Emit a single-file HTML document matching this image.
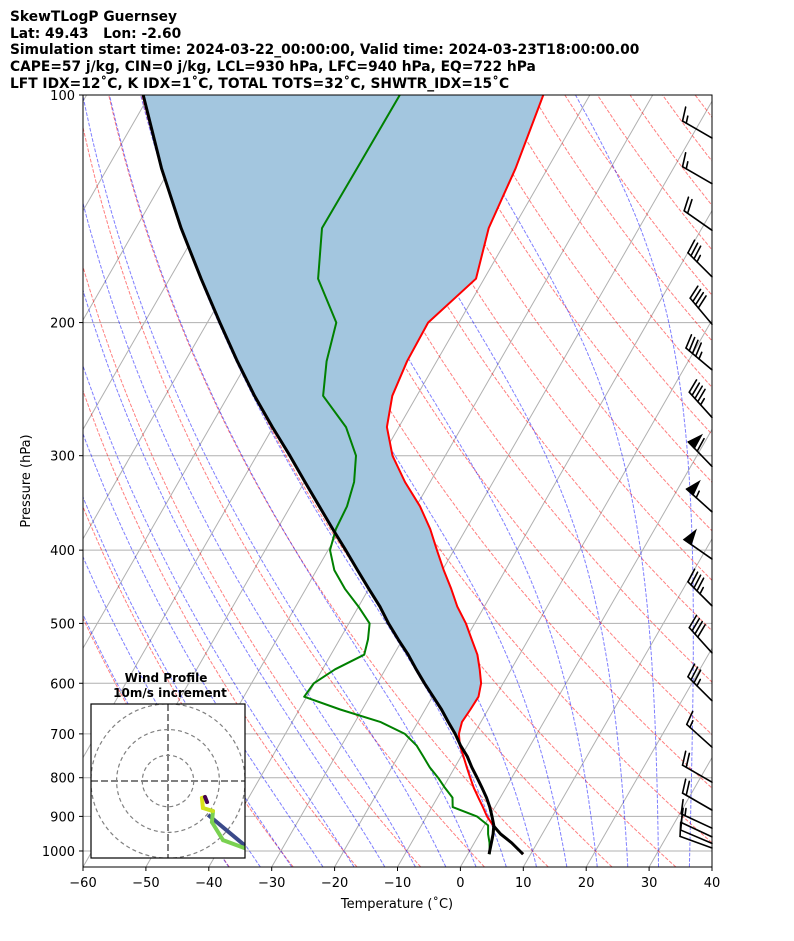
<!DOCTYPE html>
<html><head><meta charset="utf-8">
<style>
html,body{margin:0;padding:0;background:#fff;}
body{width:794px;height:937px;overflow:hidden;font-family:"DejaVu Sans","Liberation Sans",sans-serif;}
svg text{font-family:"DejaVu Sans","Liberation Sans",sans-serif;}
</style></head>
<body>
<svg id="chart" width="794" height="937" viewBox="0 0 794 937" xmlns="http://www.w3.org/2000/svg">
<defs>
<clipPath id="plotclip"><rect x="83" y="95" width="629" height="772"/></clipPath>
<clipPath id="hodoclip"><rect x="91" y="704" width="154" height="154"/></clipPath>
</defs>
<g font-weight="bold" font-size="13.8" fill="#000">
<text x="10" y="21">SkewTLogP Guernsey</text>
<text x="10" y="38" xml:space="preserve">Lat: 49.43   Lon: -2.60</text>
<text x="10" y="54">Simulation start time: 2024-03-22_00:00:00, Valid time: 2024-03-23T18:00:00.00</text>
<text x="10" y="71">CAPE=57 j/kg, CIN=0 j/kg, LCL=930 hPa, LFC=940 hPa, EQ=722 hPa</text>
<text x="10" y="88">LFT IDX=12˚C, K IDX=1˚C, TOTAL TOTS=32˚C, SHWTR_IDX=15˚C</text>
</g>
<g id="bg" clip-path="url(#plotclip)"></g>
<g id="data" clip-path="url(#plotclip)"></g>
<rect x="83" y="95" width="629" height="772" fill="none" stroke="#000" stroke-width="1"/>
<g id="axes"></g>
<g id="barbs"></g>
<g id="hodo"></g>
</svg>
<script>
// ---- data ----
const pLevels = [1010,1000,975,950,925,900,875,850,825,800,775,750,725,700,675,650,625,600,575,550,525,500,475,450,425,400,375,350,325,300,275,250,225,200,175,150,125,100];
const tempC = [8.8,8.0,5.9,3.4,1.4,-0.4,-1.9,-3.5,-5.1,-6.6,-8.1,-9.6,-11.2,-12.4,-13.0,-12.8,-12.7,-13.5,-15.0,-16.7,-19.0,-21.4,-24.3,-26.9,-29.8,-32.7,-35.7,-39.4,-44.0,-48.4,-51.9,-53.9,-54.7,-54.9,-51.3,-53.9,-55.1,-57.4];
const dewpC = [3.5,3.2,2.4,1.4,0.6,-2.0,-6.7,-7.6,-9.7,-11.7,-14.0,-16.0,-18.1,-21.0,-26.0,-33.5,-40.4,-40.1,-38.0,-34.7,-35.5,-36.7,-40.0,-43.8,-47.2,-49.7,-50.7,-51.0,-52.1,-54.2,-58.4,-64.9,-67.5,-69.5,-76.4,-80.4,-80.3,-80.2];
const parcelC = [3.4,3.2,2.7,2.2,1.5,0.4,-0.8,-2.2,-3.8,-5.5,-7.3,-9.0,-11.1,-13.0,-15.2,-17.4,-19.9,-22.5,-25.1,-27.7,-30.7,-33.7,-36.6,-40.0,-43.5,-47.2,-51.2,-55.4,-59.9,-64.7,-70.1,-75.8,-81.7,-88.0,-95.0,-102.8,-111.4,-121.0];
const windP = [114,131,151,174,201,231,267,310,356,411,474,547,633,729,811,883,933,958,977,991];
const windSpd = [15,15,20,35,40,45,45,60,55,50,45,40,35,15,20,20,15,10,10,10];
const windDir = [300,300,305,315,320,310,318,316,312,305,315,318,315,312,300,300,295,295,293,290];
const hodoU = [33.9,21.4,17.1,17.5,13.6,13.2,14.4,15.2];
const hodoV = [-27.6,-23.0,-16.0,-11.7,-10.5,-6.6,-6.2,-8.2];
const hodoLowU = [35.8,15.6];
const hodoLowV = [-30.0,-13.2];
const xTicks = [-60,-50,-40,-30,-20,-10,0,10,20,30,40];
const yTicks = [100,200,300,400,500,600,700,800,900,1000];

// ---- scales ----
const L=83,R=712,T0=95,B=867,PB=1050;
const DEC=(B-T0)/Math.log10(PB/100);
function yp(p){return T0+DEC*Math.log10(p/100);}
function xs(t,p){return L+(t+60)*6.29+0.575*(B-yp(p));}
const NS='http://www.w3.org/2000/svg';
function mk(tag,attrs,parent){const e=document.createElementNS(NS,tag);for(const k in attrs)e.setAttribute(k,attrs[k]);parent.appendChild(e);return e;}
const bg=document.getElementById('bg'),dg=document.getElementById('data'),ax=document.getElementById('axes');

yTicks.forEach(p=>{const l=mk('line',{x1:L,x2:R,y1:yp(p),y2:yp(p),stroke:'#b0b0b0','stroke-width':1},bg);

});
for(let t=-200;t<=40;t+=10){const l=mk('line',{x1:xs(t,PB),y1:B,x2:xs(t,100),y2:T0,stroke:'#b0b0b0','stroke-width':1},bg);

}
function pts(arr){return arr.map(a=>a[0].toFixed(1)+','+a[1].toFixed(1)).join(' ');}
for(let t0=-40;t0<=200;t0+=10){const th=t0+273.15;const a=[];for(let p=PB;p>=100;p-=10){a.push([xs(th*Math.pow(p/1000,0.2857)-273.15,p),yp(p)]);}
const l=mk('polyline',{points:pts(a),fill:'none',stroke:'rgba(255,0,0,0.5)','stroke-width':1,'stroke-dasharray':'3.7,1.6'},bg);

}
function dTdp(p,Tk){const es=6.112*Math.exp(17.67*(Tk-273.15)/(Tk-29.65));const rs=0.622*es/(p-es);
return (287.04*Tk+2.501e6*rs)/(1005.7+2.501e6*2.501e6*rs*0.622/(287.04*Tk*Tk))/p;}
for(let t0=-40;t0<=40;t0+=5){const up=[];let Tk=t0+273.15,p=1000;up.push([p,Tk]);
while(p>100){const h=-5;const k1=dTdp(p,Tk);const k2=dTdp(p+h,Tk+h*k1);Tk+=h*(k1+k2)/2;p+=h;up.push([p,Tk]);}
Tk=t0+273.15;p=1000;const dn=[];while(p<PB){const h=5;const k1=dTdp(p,Tk);const k2=dTdp(p+h,Tk+h*k1);Tk+=h*(k1+k2)/2;p+=h;dn.push([p,Tk]);}
const all=dn.reverse().concat(up).map(q=>[xs(q[1]-273.15,q[0]),yp(q[0])]);
const l=mk('polyline',{points:pts(all),fill:'none',stroke:'rgba(0,0,255,0.5)','stroke-width':1,'stroke-dasharray':'3.7,1.6'},bg);

}

const fillG=mk('g',{},dg);


for(let i=0;i<pLevels.length-1;i++){
  const p1=pLevels[i],p2=pLevels[i+1];
  if(p1>=900)continue;
  const d1=tempC[i]-parcelC[i],d2=tempC[i+1]-parcelC[i+1];
  const P=(t,p)=>[xs(t,p),yp(p)];
  let poly=null;
  if(d1>=0&&d2>=0){poly=[P(tempC[i],p1),P(tempC[i+1],p2),P(parcelC[i+1],p2),P(parcelC[i],p1)];}
  else if(d1>=0||d2>=0){const f=d1/(d1-d2);const lp=Math.exp(Math.log(p1)+f*(Math.log(p2)-Math.log(p1)));const tc=tempC[i]+f*(tempC[i+1]-tempC[i]);
    if(d1>=0)poly=[P(tempC[i],p1),P(tc,lp),P(parcelC[i],p1)];else poly=[P(tc,lp),P(tempC[i+1],p2),P(parcelC[i+1],p2)];}
  if(poly){const e=mk('polygon',{points:pts(poly),fill:'rgb(163,198,223)',stroke:'rgb(163,198,223)','stroke-width':0.6},fillG);
  
  }
}
function prof(arr,color,w,name){const a=arr.map((t,i)=>[xs(t,pLevels[i]),yp(pLevels[i])]);
const e=mk('polyline',{points:pts(a),fill:'none',stroke:color,'stroke-width':w,'stroke-linejoin':'round'},dg);

}
prof(dewpC,'#008000',2,'dewpoint-line');
prof(tempC,'#ff0000',2,'temperature-line');
prof(parcelC,'#000',3,'parcel-path-line');
(function(){const a=[];for(let i=0;i<=4;i++)a.push([xs(tempC[i],pLevels[i]),yp(pLevels[i])]);
const e=mk('polyline',{points:pts(a),fill:'none',stroke:'#000','stroke-width':3},dg);

})();

xTicks.forEach(t=>{const x=L+(t+60)*6.29;mk('line',{x1:x,x2:x,y1:B,y2:B+4,stroke:'#000','stroke-width':1},ax);
const tx=mk('text',{x:x,y:B+20,'text-anchor':'middle','font-size':13},ax);tx.textContent=(t<0?'\u2212'+(-t):''+t);

});
yTicks.forEach(p=>{const y=yp(p);mk('line',{x1:L-4,x2:L,y1:y,y2:y,stroke:'#000','stroke-width':1},ax);
const tx=mk('text',{x:L-8,y:y+5,'text-anchor':'end','font-size':13},ax);tx.textContent=p;

});
const xt=mk('text',{x:397,y:908,'text-anchor':'middle','font-size':13},ax);xt.textContent='Temperature (˚C)';


const yt=mk('text',{x:30,y:481,'text-anchor':'middle','font-size':13,transform:'rotate(-90 30 481)'},ax);yt.textContent='Pressure (hPa)';



const bG=document.getElementById('barbs');
windP.forEach((p,i)=>{
  const g=mk('g',{stroke:'#000','stroke-width':1.6,fill:'#000','stroke-linecap':'round'},bG);
  
  
  const Ls=34,th=windDir[i]*Math.PI/180;const dx=Math.sin(th),dy=-Math.cos(th);
  const bx=R,by=yp(p);const tx=bx+dx*Ls,ty=by+dy*Ls;
  mk('line',{x1:bx,y1:by,x2:tx,y2:ty},g);
  const px=-dy,py=dx,H=0.4*Ls,W=0.25*Ls,S=0.125*Ls;
  let s=windSpd[i];let off=0;
  const nf=Math.floor(s/50);s-=nf*50;const nb=Math.floor(s/10);s-=nb*10;const nh=s>=5?1:0;
  for(let k=0;k<nf;k++){const ax0=tx-dx*off,ay0=ty-dy*off;
    mk('polygon',{points:pts([[ax0,ay0],[ax0+px*H-dx*W/2,ay0+py*H-dy*W/2],[ax0-dx*W,ay0-dy*W]])},g);off+=W+S;}
  for(let k=0;k<nb;k++){const ax0=tx-dx*off,ay0=ty-dy*off;
    mk('line',{x1:ax0,y1:ay0,x2:ax0+px*H+dx*S,y2:ay0+py*H+dy*S},g);off+=S;}
  if(nh){if(off===0)off=S;const ax0=tx-dx*off,ay0=ty-dy*off;
    mk('line',{x1:ax0,y1:ay0,x2:ax0+px*H/2+dx*S/2,y2:ay0+py*H/2+dy*S/2},g);}
});

const hG=document.getElementById('hodo');


const hx=168,hy=781,hs=2.57;
const t1=mk('text',{x:166,y:682,'text-anchor':'middle','font-size':12,'font-weight':'bold'},hG);t1.textContent='Wind Profile';


const t2=mk('text',{x:170,y:697,'text-anchor':'middle','font-size':12,'font-weight':'bold'},hG);t2.textContent='10m/s increment';


const hb=mk('rect',{x:91,y:704,width:154,height:154,fill:'#fff',stroke:'none'},hG);


const hc=mk('g',{'clip-path':'url(#hodoclip)'},hG);
[10,20,30].forEach(r=>{const c=mk('circle',{cx:hx,cy:hy,r:r*hs,fill:'none',stroke:'#808080','stroke-width':1.2,'stroke-dasharray':'4,3'},hc);

});
mk('line',{x1:91,x2:245,y1:hy,y2:hy,stroke:'#808080','stroke-width':2,'stroke-dasharray':'7,3'},hc);
mk('line',{x1:hx,x2:hx,y1:704,y2:858,stroke:'#808080','stroke-width':2,'stroke-dasharray':'7,3'},hc);
const hpt=(u,v)=>[hx+u*hs,hy-v*hs];
const low=mk('polyline',{points:pts(hodoLowU.map((u,i)=>hpt(u,hodoLowV[i]))),fill:'none',stroke:'#3b4a8a','stroke-width':4},hc);


const segCols=['#7ad151','#7ad151','#7ad151','#c8e020','#d8e219','#d8e219','#440154'];
for(let i=0;i<hodoU.length-1;i++){const a=hpt(hodoU[i],hodoV[i]),b=hpt(hodoU[i+1],hodoV[i+1]);
const e=mk('line',{x1:a[0],y1:a[1],x2:b[0],y2:b[1],stroke:segCols[i],'stroke-width':4,'stroke-linecap':'round'},hc);

}
const hf=mk('rect',{x:91,y:704,width:154,height:154,fill:'none',stroke:'#000','stroke-width':1.2},hG);


</script>
</body></html>
